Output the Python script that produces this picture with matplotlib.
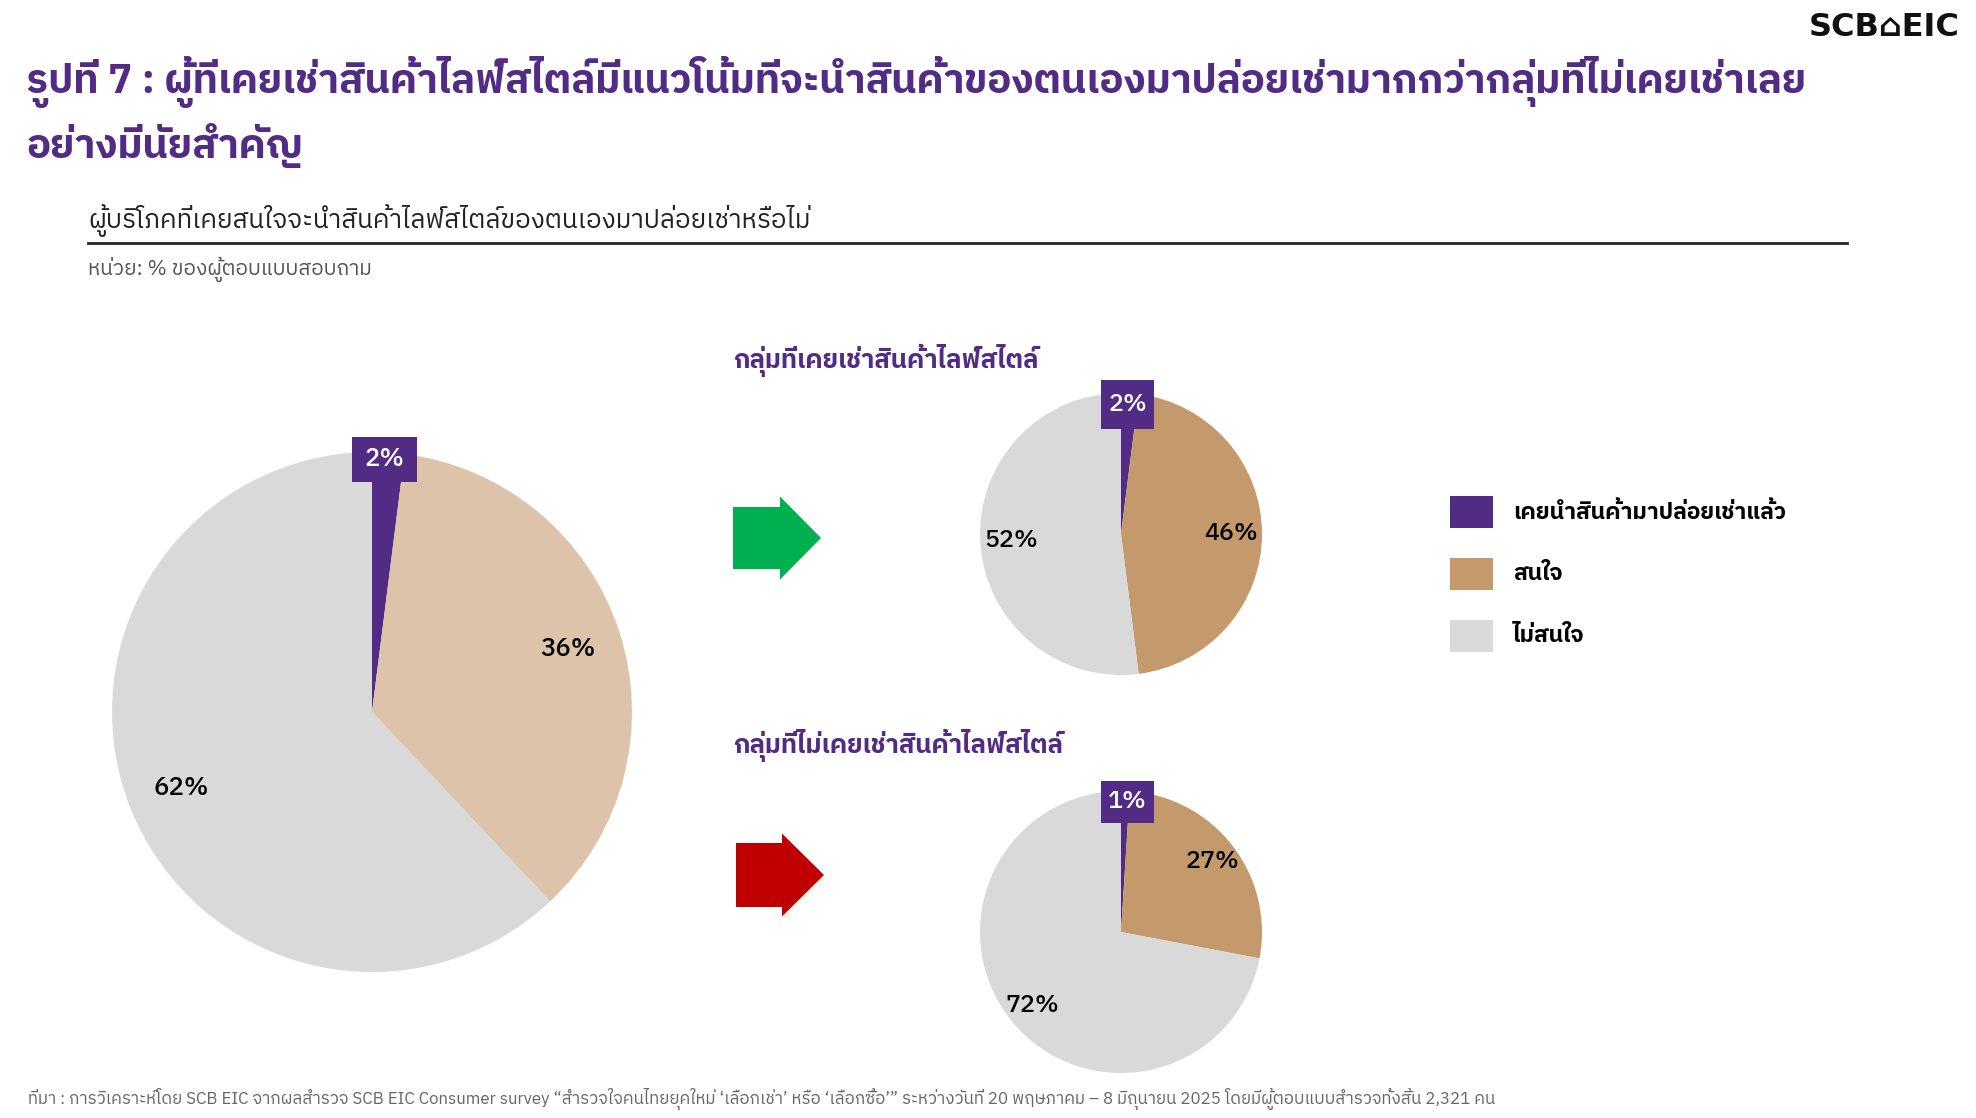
import numpy as np
import matplotlib
matplotlib.use("Agg")
import matplotlib.pyplot as plt
from matplotlib import font_manager as fm
from matplotlib.ft2font import FT2Font
from matplotlib.patches import Polygon, Rectangle

# data
legend_labels = ["เคยนำสินค้ามาปล่อยเช่าแล้ว", "สนใจ", "ไม่สนใจ"]
all_values = [2, 36, 62]
renter_values = [2, 46, 52]
nonrenter_values = [1, 27, 72]
renter_title = "กลุ่มที่เคยเช่าสินค้าไลฟ์สไตล์"
nonrenter_title = "กลุ่มที่ไม่เคยเช่าสินค้าไลฟ์สไตล์"

title_1 = "รูปที่ 7 : ผู้ที่เคยเช่าสินค้าไลฟ์สไตล์มีแนวโน้มที่จะนำสินค้าของตนเองมาปล่อยเช่ามากกว่ากลุ่มที่ไม่เคยเช่าเลย"
title_2 = "อย่างมีนัยสำคัญ"
subtitle = "ผู้บริโภคที่เคยสนใจจะนำสินค้าไลฟ์สไตล์ของตนเองมาปล่อยเช่าหรือไม่"
unit = "หน่วย: % ของผู้ตอบแบบสอบถาม"
source = ("ที่มา : การวิเคราะห์โดย SCB EIC จากผลสำรวจ SCB EIC Consumer survey “สำรวจใจคนไทยยุคใหม่ ‘เลือกเช่า’ หรือ ‘เลือกซื้อ’” "
          "ระหว่างวันที่ 20 พฤษภาคม – 8 มิถุนายน 2025 โดยมีผู้ตอบแบบสำรวจทั้งสิ้น 2,321 คน")

PURPLE = "#512B84"
TAN = "#C49A6C"
TAN_LIGHT = "#DCC3AA"
GREY = "#D9D9D9"


# find a font that has Thai glyphs
def thai_fonts():
    found = []
    for f in fm.fontManager.ttflist:
        try:
            cmap = FT2Font(f.fname).get_charmap()
        except Exception:
            continue
        if 0x0E01 in cmap:
            found.append(f)
    return found


tf = thai_fonts()
thai_name = tf[0].name if tf else "DejaVu Sans"
for f in tf:
    if "Thai" in f.name and "Looped" not in f.name:
        thai_name = f.name
        break
plt.rcParams["font.family"] = [thai_name, "DejaVu Sans"]

W, H = 1976, 1118
fig = plt.figure(figsize=(W / 100, H / 100), dpi=100)


def fx(x):
    return x / W


def fy(y):
    return 1 - y / H


def draw_pie(cx, cy, r, values, colors, pct_dist, box, fs):
    half = 1.3 * r
    ax = fig.add_axes([fx(cx - half), fy(cy + half), 2 * half / W, 2 * half / H])
    ax.pie(values, colors=colors, startangle=90, counterclock=False,
           radius=1, wedgeprops=dict(linewidth=0))
    ax.set_xlim(-1.3, 1.3)
    ax.set_ylim(-1.3, 1.3)
    ax.set_aspect("equal")
    ax.axis("off")

    ang0 = 0
    for i, v in enumerate(values):
        mid = np.deg2rad(90 - (ang0 + v / 2) * 3.6)
        ang0 += v
        if i == 0:
            continue
        ax.text(pct_dist * np.cos(mid), pct_dist * np.sin(mid), f"{v}%",
                ha="center", va="center", fontsize=fs, color="black", fontweight="medium")

    # label box for the thin first slice (px offsets -> data units)
    dx, top_off, bw, bh = [b / r for b in box]
    y0 = 1.0 + top_off - bh
    ax.add_patch(Rectangle((dx - bw / 2, y0), bw, bh, facecolor=PURPLE,
                           edgecolor="none", zorder=5))
    ax.text(dx, y0 + bh / 2, f"{values[0]}%", ha="center", va="center",
            fontsize=fs, color="white", zorder=6, fontweight="medium")
    return ax


draw_pie(372, 712, 260, all_values, [PURPLE, TAN_LIGHT, GREY], 0.79, (12.5, 15, 65, 45), 18.5)
draw_pie(1121, 534, 141, renter_values, [PURPLE, TAN, GREY], 0.78, (6.5, 13, 53, 49), 18)
draw_pie(1121, 932, 141, nonrenter_values, [PURPLE, TAN, GREY], 0.82, (6.5, 10, 53, 42), 18)

# title and headings
fig.text(fx(26), fy(82), title_1, color=PURPLE, fontsize=29, fontweight="bold",
         ha="left", va="center")
fig.text(fx(26), fy(145), title_2, color=PURPLE, fontsize=29, fontweight="bold",
         ha="left", va="center")
fig.text(fx(1960), fy(28), "SCB⌂EIC", fontsize=23, fontweight="bold", color="#111111",
         ha="right", va="center", family="DejaVu Sans")
fig.text(fx(88), fy(221), subtitle, fontsize=18.7, color="#222222", ha="left", va="center")
fig.add_artist(plt.Line2D([fx(88), fx(1847)], [fy(243), fy(243)], color="#222222", lw=2))
fig.text(fx(88), fy(269), unit, fontsize=15, color="#555555", ha="left", va="center")

fig.text(fx(733), fy(360), renter_title, fontsize=18.5, fontweight="bold", color=PURPLE,
         ha="left", va="center")
fig.text(fx(733), fy(745), nonrenter_title, fontsize=18.5, fontweight="bold", color=PURPLE,
         ha="left", va="center")


# arrows
def arrow(x0, x1, x2, y_mid, body_h, head_h, color):
    pts = [(x0, y_mid - body_h / 2), (x1, y_mid - body_h / 2), (x1, y_mid - head_h / 2),
           (x2, y_mid), (x1, y_mid + head_h / 2), (x1, y_mid + body_h / 2),
           (x0, y_mid + body_h / 2)]
    pts = [(fx(x), fy(y)) for x, y in pts]
    fig.add_artist(Polygon(pts, closed=True, facecolor=color, edgecolor="none",
                           transform=fig.transFigure))


arrow(733, 780, 821, 538, 62, 83, "#00B050")
arrow(736, 782, 824, 875, 64, 83, "#C00000")

# legend
leg_y = [512, 574, 636]
for lab, col, y in zip(legend_labels, [PURPLE, TAN, GREY], leg_y):
    fig.add_artist(Rectangle((fx(1450), fy(y + 16)), 43 / W, 32 / H, facecolor=col,
                             edgecolor="none", transform=fig.transFigure))
    fig.text(fx(1513), fy(y), lab, fontsize=16.5, fontweight="bold", color="black",
             ha="left", va="center")

fig.text(fx(28), fy(1099), source, fontsize=12.2, color="#666666", ha="left", va="center")

fig.savefig("out.png", dpi=100)
